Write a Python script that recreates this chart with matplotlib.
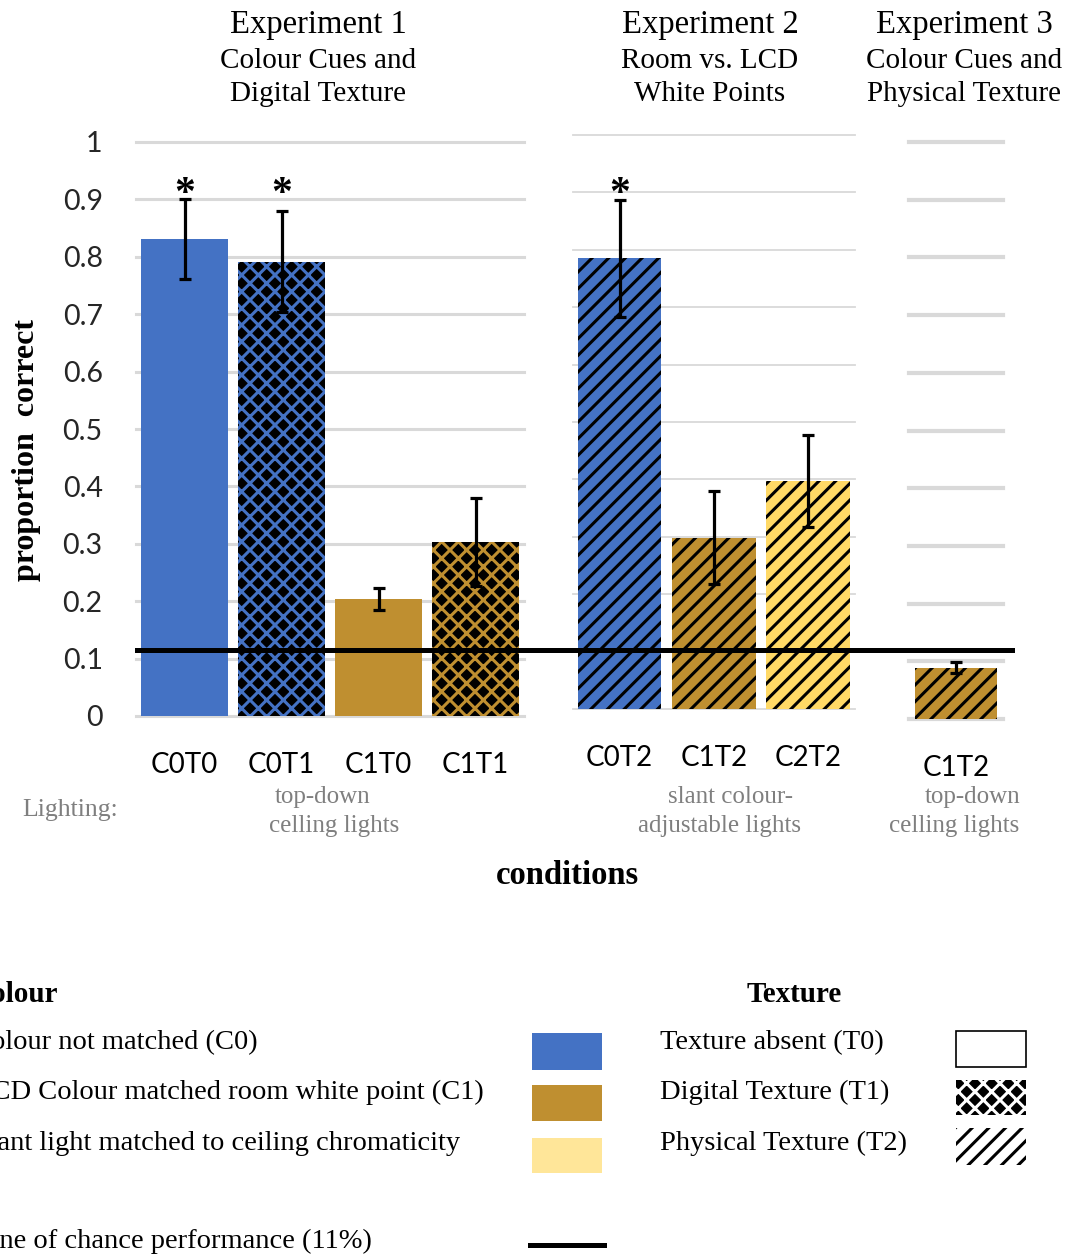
import matplotlib
matplotlib.use('Agg')
import matplotlib.pyplot as plt
import matplotlib.transforms as mtransforms
from matplotlib.patches import Rectangle
from matplotlib.lines import Line2D

W, H = 1065, 1255
SERIF = 'Liberation Serif'
SANS = 'Lato'

BLUE = '#4472C4'
GOLD = '#BF8F30'
PALE = '#FFD966'
PALE_KEY = '#FFE699'
GRID = '#d9d9d9'

# Experiment 1: colour cues and digital texture
exp1_labels = ['C0T0', 'C0T1', 'C1T0', 'C1T1']
exp1_values = [0.831, 0.791, 0.204, 0.303]
exp1_errors = [0.070, 0.088, 0.019, 0.076]
exp1_colours = [BLUE, BLUE, GOLD, GOLD]
exp1_textures = ['T0', 'T1', 'T0', 'T1']
exp1_signif = [True, True, False, False]

# Experiment 2: room vs. LCD white points
exp2_labels = ['C0T2', 'C1T2', 'C2T2']
exp2_values = [0.785, 0.298, 0.397]
exp2_errors = [0.102, 0.081, 0.080]
exp2_colours = [BLUE, GOLD, PALE]
exp2_textures = ['T2', 'T2', 'T2']
exp2_signif = [True, False, False]

# Experiment 3: colour cues and physical texture
exp3_labels = ['C1T2']
exp3_values = [0.089]
exp3_errors = [0.009]
exp3_colours = [GOLD]
exp3_textures = ['T2']
exp3_signif = [False]

chance = 0.115
yticks = [0, 0.1, 0.2, 0.3, 0.4, 0.5, 0.6, 0.7, 0.8, 0.9, 1]
ytick_labels = ['0', '0.1', '0.2', '0.3', '0.4', '0.5', '0.6', '0.7', '0.8', '0.9', '1']

plt.rcParams['hatch.linewidth'] = 2.2

fig = plt.figure(figsize=(W / 100, H / 100), dpi=100)


def px_axes(left, right, y0, y1):
    # pixel box (image coords) -> figure fraction axes
    return fig.add_axes([left / W, 1 - y0 / H, (right - left) / W, (y0 - y1) / H])


def txt(x, y, s, **kw):
    kw.setdefault('family', SERIF)
    kw.setdefault('va', 'center')
    return fig.text(x / W, 1 - y / H, s, **kw)


def draw_panel(ax, labels, values, errors, colours, textures, signif,
               width, grid_lw, star_y):
    xs = list(range(len(labels)))
    for y in yticks:
        ax.axhline(y, color=GRID, lw=grid_lw, zorder=0, clip_on=False)
    for i, (v, c, t) in enumerate(zip(values, colours, textures)):
        if t == 'T1':
            ax.bar(i, v, width, color='black', edgecolor=c, lw=0, hatch='xx', zorder=2)
        elif t == 'T2':
            ax.bar(i, v, width, color=c, edgecolor='black', lw=0, hatch='//', zorder=2)
        else:
            ax.bar(i, v, width, color=c, lw=0, zorder=2)
    ax.errorbar(xs, values, yerr=errors, fmt='none', ecolor='black',
                elinewidth=2.3, capsize=4.5, capthick=2.3, zorder=4)
    for i, s in enumerate(signif):
        if s:
            ax.text(i, star_y, '*', ha='center', va='center', fontsize=30,
                    fontweight='bold', family=SERIF, zorder=5)
    ax.set_xlim(-0.5, len(labels) - 0.5)
    ax.set_ylim(0, 1)
    ax.set_xticks(xs)
    ax.set_xticklabels(labels, family=SANS, fontsize=20)
    ax.tick_params(axis='x', length=0, pad=26)
    for sp in ax.spines.values():
        sp.set_visible(False)
    ax.patch.set_alpha(0)


ax1 = px_axes(136, 524, 716, 142)
draw_panel(ax1, exp1_labels, exp1_values, exp1_errors, exp1_colours,
           exp1_textures, exp1_signif, 0.9, 2.2, 0.908)
ax1.set_yticks(yticks)
ax1.set_yticklabels(ytick_labels, family=SANS, fontsize=20.5, color='#262626')
ax1.tick_params(axis='y', length=0, pad=24)

ax2 = px_axes(572.5, 855, 709, 135)
draw_panel(ax2, exp2_labels, exp2_values, exp2_errors, exp2_colours,
           exp2_textures, exp2_signif, 0.89, 1.3, 0.896)
ax2.set_yticks([])

ax3 = px_axes(909, 1003, 719, 142)
draw_panel(ax3, exp3_labels, exp3_values, exp3_errors, exp3_colours,
           exp3_textures, exp3_signif, 0.88, 3.0, 0.9)
ax3.set_yticks([])

# chance line drawn straight across all three panels
blend = mtransforms.blended_transform_factory(fig.transFigure, ax1.transData)
fig.add_artist(Line2D([137 / W, 1012 / W], [chance, chance], transform=blend,
                      color='black', lw=3.6, zorder=5))

# panel titles
titles = [
    (318, ['Experiment 1', 'Colour Cues and', 'Digital Texture']),
    (710, ['Experiment 2', 'Room vs. LCD', 'White Points']),
    (964, ['Experiment 3', 'Colour Cues and', 'Physical Texture']),
]
for cx, lines in titles:
    txt(cx, 25, lines[0], ha='center', fontsize=23.5)
    txt(cx, 61, lines[1], ha='center', fontsize=21)
    txt(cx, 94, lines[2], ha='center', fontsize=21)

txt(27, 450, 'proportion  correct', rotation=90, ha='center',
    fontsize=23, fontweight='bold')

# lighting notes
LIGHT = '#7f7f7f'
txt(22, 810, 'Lighting:', ha='left', fontsize=18.5, color=LIGHT)
txt(323, 797, 'top-down', ha='center', fontsize=18, color=LIGHT)
txt(334, 826, 'celling lights', ha='center', fontsize=18, color=LIGHT)
txt(731, 797, 'slant colour-', ha='center', fontsize=18, color=LIGHT)
txt(720, 826, 'adjustable lights', ha='center', fontsize=18, color=LIGHT)
txt(1020, 797, 'top-down', ha='right', fontsize=18, color=LIGHT)
txt(1019, 826, 'celling lights', ha='right', fontsize=18, color=LIGHT)

txt(567, 876, 'conditions', ha='center', fontsize=23.5, fontweight='bold')

# legend: colour
txt(58, 994, 'Colour', ha='right', fontsize=21, fontweight='bold')
colour_keys = [
    ('Colour not matched (C0)', 258, 1043, BLUE, 1033, 1070),
    ('LCD Colour matched room white point (C1)', 484, 1092, GOLD, 1085, 1121),
    ('Slant light matched to ceiling chromaticity', 460, 1143, PALE_KEY, 1138, 1173),
]
for label, xr, y, col, ya, yb in colour_keys:
    txt(xr, y, label, ha='right', fontsize=20.5)
    fig.add_artist(Rectangle((532 / W, 1 - yb / H), 70 / W, (yb - ya) / H,
                             transform=fig.transFigure, facecolor=col, lw=0))
txt(372, 1241, 'Line of chance performance (11%)', ha='right', fontsize=20.5)
fig.add_artist(Line2D([530 / W, 604 / W], [1 - 1245 / H, 1 - 1245 / H],
                      transform=fig.transFigure, color='black', lw=3.6))

# legend: texture
txt(794, 994, 'Texture', ha='center', fontsize=21, fontweight='bold')
texture_keys = [
    ('Texture absent (T0)', 1043),
    ('Digital Texture (T1)', 1092),
    ('Physical Texture (T2)', 1143),
]
for label, y in texture_keys:
    txt(660, y, label, ha='left', fontsize=20.5)
fig.add_artist(Rectangle((956 / W, 1 - 1067 / H), 70 / W, 36 / H,
                         transform=fig.transFigure, facecolor='white',
                         edgecolor='black', lw=1.2))
fig.add_artist(Rectangle((956 / W, 1 - 1115 / H), 70 / W, 35 / H,
                         transform=fig.transFigure, facecolor='black',
                         edgecolor='white', lw=0, hatch='xx'))
fig.add_artist(Rectangle((956 / W, 1 - 1165 / H), 70 / W, 37 / H,
                         transform=fig.transFigure, facecolor='white',
                         edgecolor='black', lw=0, hatch='//'))

fig.savefig('out.png', dpi=100)
